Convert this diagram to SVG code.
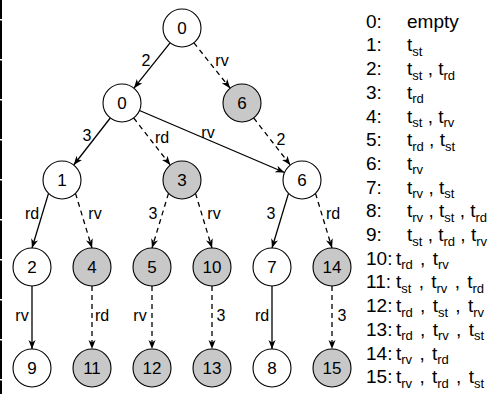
<svg xmlns="http://www.w3.org/2000/svg" width="497" height="394" viewBox="0 0 497 394">
<defs>
<style>
.nd{fill:#fff;stroke:#000;stroke-width:1.1}
.sh{fill:#c8c8c8;stroke:#000;stroke-width:1.1}
.nt{font-family:"Liberation Sans",Arial,sans-serif;font-size:17px;text-anchor:middle;fill:#000}
.el{font-family:"Liberation Sans",Arial,sans-serif;font-size:16px;text-anchor:middle;fill:#000}
.ed{fill:none;stroke:#000;stroke-width:1.3;marker-end:url(#ah)}
.da{stroke-dasharray:5 4}
.lg{font-family:"Liberation Sans",Arial,sans-serif;font-size:19px;fill:#000;white-space:pre}
.ws{word-spacing:2px}
.sb{font-size:13px}
</style>
<marker id="ah" markerUnits="userSpaceOnUse" markerWidth="10" markerHeight="8" refX="9" refY="3.5" orient="auto">
<path d="M0,0 L9,3.5 L0,7 L2.5,3.5 Z" fill="#000"/>
</marker>
</defs>
<rect width="497" height="394" fill="#fff"/>
<g id="border" fill="#000">
<rect x="0" y="0" width="2" height="19"/>
<rect x="0" y="20.5" width="2" height="38.5"/>
<rect x="0" y="60.5" width="2" height="38.5"/>
<rect x="0" y="100.5" width="2" height="38.5"/>
<rect x="0" y="140.5" width="2" height="38.5"/>
<rect x="0" y="180.5" width="2" height="38.5"/>
<rect x="0" y="220.5" width="2" height="38.5"/>
<rect x="0" y="260.5" width="2" height="38.5"/>
<rect x="0" y="300.5" width="2" height="38.5"/>
<rect x="0" y="340.5" width="2" height="38.5"/>
<rect x="0" y="380.5" width="2" height="13.5"/>
</g>
<g id="connectors">
<line class="ed" x1="170.1" y1="42.8" x2="133.9" y2="88.2"/>
<line class="ed da" x1="193.9" y1="42.8" x2="230.1" y2="88.2"/>
<line class="ed" x1="110.3" y1="118" x2="73.7" y2="165"/>
<line class="ed da" x1="133.7" y1="118" x2="170.3" y2="165"/>
<line class="ed" x1="139.5" y1="110.5" x2="284.5" y2="172.5"/>
<line class="ed da" x1="253.7" y1="118" x2="290.3" y2="165"/>
<line class="ed" x1="48.5" y1="193.4" x2="32" y2="248"/>
<line class="ed da" x1="75.5" y1="193.4" x2="92" y2="248"/>
<line class="ed da" x1="168.5" y1="193.4" x2="152" y2="248"/>
<line class="ed da" x1="195.5" y1="193.4" x2="212" y2="248"/>
<line class="ed" x1="288.5" y1="193.4" x2="272" y2="248"/>
<line class="ed da" x1="315.5" y1="193.4" x2="332" y2="248"/>
<line class="ed" x1="32" y1="286" x2="32" y2="349"/>
<line class="ed da" x1="92" y1="286" x2="92" y2="349"/>
<line class="ed da" x1="152" y1="286" x2="152" y2="349"/>
<line class="ed da" x1="212" y1="286" x2="212" y2="349"/>
<line class="ed" x1="272" y1="286" x2="272" y2="349"/>
<line class="ed da" x1="332" y1="286" x2="332" y2="349"/>
<g id="edge-labels">
<text class="el" x="146" y="66">2</text>
<text class="el" x="222" y="66">rv</text>
<text class="el" x="87" y="141">3</text>
<text class="el" x="162" y="143">rd</text>
<text class="el" x="208" y="138">rv</text>
<text class="el" x="281" y="145">2</text>
<text class="el" x="32" y="219">rd</text>
<text class="el" x="95" y="219">rv</text>
<text class="el" x="153" y="219">3</text>
<text class="el" x="214" y="219">rv</text>
<text class="el" x="271" y="219">3</text>
<text class="el" x="333" y="219">rd</text>
<text class="el" x="22" y="321">rv</text>
<text class="el" x="102" y="321">rd</text>
<text class="el" x="140" y="321">rv</text>
<text class="el" x="221" y="321">3</text>
<text class="el" x="262" y="321">rd</text>
<text class="el" x="342" y="321">3</text>
</g>
</g>
<g id="n-root"><circle class="nd" cx="182" cy="28" r="19"/><text class="nt" x="182" y="34">0</text></g>
<g id="n-0"><circle class="nd" cx="122" cy="103" r="19"/><text class="nt" x="122" y="109">0</text></g>
<g id="n-6a"><circle class="sh" cx="242" cy="103" r="19"/><text class="nt" x="242" y="109">6</text></g>
<g id="n-1"><circle class="nd" cx="62" cy="180" r="19"/><text class="nt" x="62" y="186">1</text></g>
<g id="n-3"><circle class="sh" cx="182" cy="180" r="19"/><text class="nt" x="182" y="186">3</text></g>
<g id="n-6b"><circle class="nd" cx="302" cy="180" r="19"/><text class="nt" x="302" y="186">6</text></g>
<g id="n-2"><circle class="nd" cx="32" cy="267" r="19"/><text class="nt" x="32" y="273">2</text></g>
<g id="n-4"><circle class="sh" cx="92" cy="267" r="19"/><text class="nt" x="92" y="273">4</text></g>
<g id="n-5"><circle class="sh" cx="152" cy="267" r="19"/><text class="nt" x="152" y="273">5</text></g>
<g id="n-10"><circle class="sh" cx="212" cy="267" r="19"/><text class="nt" x="212" y="273">10</text></g>
<g id="n-7"><circle class="nd" cx="272" cy="267" r="19"/><text class="nt" x="272" y="273">7</text></g>
<g id="n-14"><circle class="sh" cx="332" cy="267" r="19"/><text class="nt" x="332" y="273">14</text></g>
<g id="n-9"><circle class="nd" cx="32" cy="368" r="19"/><text class="nt" x="32" y="374">9</text></g>
<g id="n-11"><circle class="sh" cx="92" cy="368" r="19"/><text class="nt" x="92" y="374">11</text></g>
<g id="n-12"><circle class="sh" cx="152" cy="368" r="19"/><text class="nt" x="152" y="374">12</text></g>
<g id="n-13"><circle class="sh" cx="212" cy="368" r="19"/><text class="nt" x="212" y="374">13</text></g>
<g id="n-8"><circle class="nd" cx="272" cy="368" r="19"/><text class="nt" x="272" y="374">8</text></g>
<g id="n-15"><circle class="sh" cx="332" cy="368" r="19"/><text class="nt" x="332" y="374">15</text></g>
<g id="legend">
<text class="lg" y="27.7"><tspan x="366">0:</tspan><tspan x="407">empty</tspan></text>
<text class="lg" y="51.4"><tspan x="366">1:</tspan><tspan x="407">t</tspan><tspan class="sb" dy="4.5">st</tspan></text>
<text class="lg" y="75.1"><tspan x="366">2:</tspan><tspan x="407">t</tspan><tspan class="sb" dy="4.5">st</tspan><tspan dy="-4.5"> , t</tspan><tspan class="sb" dy="4.5">rd</tspan></text>
<text class="lg" y="98.8"><tspan x="366">3:</tspan><tspan x="407">t</tspan><tspan class="sb" dy="4.5">rd</tspan></text>
<text class="lg" y="122.5"><tspan x="366">4:</tspan><tspan x="407">t</tspan><tspan class="sb" dy="4.5">st</tspan><tspan dy="-4.5"> , t</tspan><tspan class="sb" dy="4.5">rv</tspan></text>
<text class="lg" y="146.2"><tspan x="366">5:</tspan><tspan x="407">t</tspan><tspan class="sb" dy="4.5">rd</tspan><tspan dy="-4.5"> , t</tspan><tspan class="sb" dy="4.5">st</tspan></text>
<text class="lg" y="169.9"><tspan x="366">6:</tspan><tspan x="407">t</tspan><tspan class="sb" dy="4.5">rv</tspan></text>
<text class="lg" y="193.6"><tspan x="366">7:</tspan><tspan x="407">t</tspan><tspan class="sb" dy="4.5">rv</tspan><tspan dy="-4.5"> , t</tspan><tspan class="sb" dy="4.5">st</tspan></text>
<text class="lg" y="217.3"><tspan x="366">8:</tspan><tspan x="407">t</tspan><tspan class="sb" dy="4.5">rv</tspan><tspan dy="-4.5"> , t</tspan><tspan class="sb" dy="4.5">st</tspan><tspan dy="-4.5"> , t</tspan><tspan class="sb" dy="4.5">rd</tspan></text>
<text class="lg" y="241"><tspan x="366">9:</tspan><tspan x="407">t</tspan><tspan class="sb" dy="4.5">st</tspan><tspan dy="-4.5"> , t</tspan><tspan class="sb" dy="4.5">rd</tspan><tspan dy="-4.5"> , t</tspan><tspan class="sb" dy="4.5">rv</tspan></text>
<text class="lg ws" y="264.7"><tspan x="366">10:</tspan><tspan x="396">t</tspan><tspan class="sb" dy="4.5">rd</tspan><tspan dy="-4.5"> , t</tspan><tspan class="sb" dy="4.5">rv</tspan></text>
<text class="lg ws" y="288.4"><tspan x="366">11:</tspan><tspan x="396">t</tspan><tspan class="sb" dy="4.5">st</tspan><tspan dy="-4.5"> , t</tspan><tspan class="sb" dy="4.5">rv</tspan><tspan dy="-4.5"> , t</tspan><tspan class="sb" dy="4.5">rd</tspan></text>
<text class="lg ws" y="312.1"><tspan x="366">12:</tspan><tspan x="396">t</tspan><tspan class="sb" dy="4.5">rd</tspan><tspan dy="-4.5"> , t</tspan><tspan class="sb" dy="4.5">st</tspan><tspan dy="-4.5"> , t</tspan><tspan class="sb" dy="4.5">rv</tspan></text>
<text class="lg ws" y="335.8"><tspan x="366">13:</tspan><tspan x="396">t</tspan><tspan class="sb" dy="4.5">rd</tspan><tspan dy="-4.5"> , t</tspan><tspan class="sb" dy="4.5">rv</tspan><tspan dy="-4.5"> , t</tspan><tspan class="sb" dy="4.5">st</tspan></text>
<text class="lg ws" y="359.5"><tspan x="366">14:</tspan><tspan x="396">t</tspan><tspan class="sb" dy="4.5">rv</tspan><tspan dy="-4.5"> , t</tspan><tspan class="sb" dy="4.5">rd</tspan></text>
<text class="lg ws" y="383.2"><tspan x="366">15:</tspan><tspan x="396">t</tspan><tspan class="sb" dy="4.5">rv</tspan><tspan dy="-4.5"> , t</tspan><tspan class="sb" dy="4.5">rd</tspan><tspan dy="-4.5"> , t</tspan><tspan class="sb" dy="4.5">st</tspan></text>
</g>
</svg>
